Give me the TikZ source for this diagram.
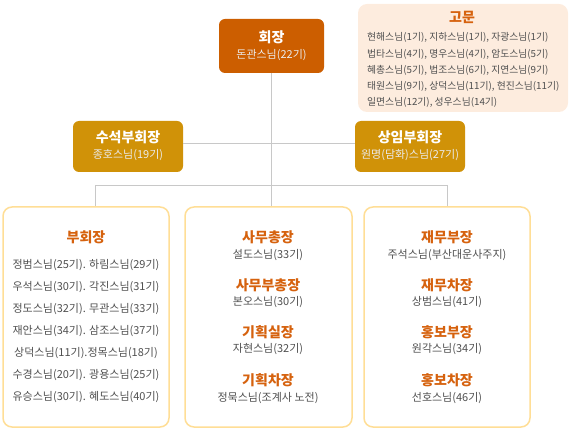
\documentclass[tikz,border=0pt]{standalone}
\usepackage{fontspec}
\setmainfont{Noto Sans CJK KR}
\definecolor{chief}{RGB}{204,94,0}
\definecolor{gold}{RGB}{208,146,8}
\definecolor{peach}{RGB}{253,236,222}
\definecolor{ttl}{RGB}{214,98,14}
\definecolor{bord}{RGB}{255,222,150}
\definecolor{body}{RGB}{80,80,80}
\definecolor{conn}{RGB}{200,200,200}
\tikzset{
  topbox/.style={rounded corners=6pt, inner sep=0pt},
  listbox/.style={draw=bord, line width=1.5pt, fill=white, rounded corners=9pt, inner sep=0pt},
  wtitle/.style={text=white, font=\fontsize{14}{16}\selectfont\bfseries, inner sep=0pt},
  wsub/.style={text=white!92!black, font=\fontsize{11}{13}\selectfont, inner sep=0pt},
  otitle/.style={text=ttl, font=\fontsize{14}{16}\selectfont\bfseries, inner sep=0pt},
  btxt/.style={text=body, font=\fontsize{11}{13}\selectfont, inner sep=0pt},
  gtxt/.style={text=body, font=\fontsize{9.8}{11}\selectfont, inner sep=0pt, anchor=west},
  conline/.style={draw=conn, line width=0.8pt}
}
\begin{document}
\begin{tikzpicture}[x=1pt,y=-1pt]
\useasboundingbox (0,0) rectangle (572,430);
% boxes
\node[topbox, fill=chief, minimum width=105pt, minimum height=54pt] (hj) at (271.5,46) {};
\node[topbox, fill=gold, minimum width=110pt, minimum height=51pt] (sb) at (128,146.5) {};
\node[topbox, fill=gold, minimum width=110pt, minimum height=51pt] (si) at (410,146.5) {};
\node[rounded corners=9pt, fill=peach, minimum width=210pt, minimum height=108pt, inner sep=0pt] (gm) at (463,58) {};
\node[listbox, minimum width=166pt, minimum height=220pt] (b1) at (86,317) {};
\node[listbox, minimum width=167pt, minimum height=220pt] (b2) at (268.5,317) {};
\node[listbox, minimum width=166pt, minimum height=220pt] (b3) at (447,317) {};
% connectors
\coordinate (j1) at (271.5,143);
\coordinate (j2) at (271.5,185);
\coordinate (l) at (95,185);
\coordinate (m) at (271.5,185);
\coordinate (r) at (447,185);
\draw[conline] (hj.south) -- (j2);
\draw[conline] (sb.east |- j1) -- (si.west |- j1);
\draw[conline] (l) -- (r);
\draw[conline] (l) -- (l |- b1.north);
\draw[conline] (m) -- (m |- b2.north);
\draw[conline] (r) -- (r |- b3.north);
% top texts
\node[wtitle] (t1) at (271.5,37) {회장};
\node[wsub] (s1) at (271.5,55) {돈관스님(22기)};
\node[wtitle] (t2) at (128,137) {수석부회장};
\node[wsub] (s2) at (128,155) {종호스님(19기)};
\node[wtitle] (t3) at (410,137) {상임부회장};
\node[wsub] (s3) at (410,155) {원명(담화)스님(27기)};
% advisors
\node[otitle] (gt) at (462,17) {고문};
\node[gtxt] (g1) at (367,37) {현해스님(1기), 지하스님(1기), 자광스님(1기)};
\node[gtxt] (g2) at (367,54) {법타스님(4기), 명우스님(4기), 암도스님(5기)};
\node[gtxt] (g3) at (367,70) {혜총스님(5기), 법조스님(6기), 지연스님(9기)};
\node[gtxt] (g4) at (367,86) {태원스님(9기), 상덕스님(11기), 현진스님(11기)};
\node[gtxt] (g5) at (367,102) {일면스님(12기), 성우스님(14기)};
% box 1
\node[otitle] (a0) at (86,237) {부회장};
\node[btxt] (a1) at (86,265) {정범스님(25기). 하림스님(29기)};
\node[btxt] (a2) at (86,287) {우석스님(30기). 각진스님(31기)};
\node[btxt] (a3) at (86,309) {정도스님(32기). 무관스님(33기)};
\node[btxt] (a4) at (86,331) {재안스님(34기). 삼조스님(37기)};
\node[btxt] (a5) at (86,353) {상덕스님(11기).정목스님(18기)};
\node[btxt] (a6) at (86,375) {수경스님(20기). 광용스님(25기)};
\node[btxt] (a7) at (86,397) {유승스님(30기). 혜도스님(40기)};
% box 2
\node[otitle] (c1) at (268,237) {사무총장};
\node[btxt] (d1) at (268,255) {설도스님(33기)};
\node[otitle] (c2) at (268,285) {사무부총장};
\node[btxt] (d2) at (268,302) {본오스님(30기)};
\node[otitle] (c3) at (268,332) {기획실장};
\node[btxt] (d3) at (268,349) {자현스님(32기)};
\node[otitle] (c4) at (268,380) {기획차장};
\node[btxt] (d4) at (268,398) {정묵스님(조계사 노전)};
% box 3
\node[otitle] (e1) at (447,237) {재무부장};
\node[btxt] (f1) at (447,255) {주석스님(부산대운사주지)};
\node[otitle] (e2) at (447,285) {재무차장};
\node[btxt] (f2) at (447,302) {상범스님(41기)};
\node[otitle] (e3) at (447,332) {홍보부장};
\node[btxt] (f3) at (447,349) {원각스님(34기)};
\node[otitle] (e4) at (447,380) {홍보차장};
\node[btxt] (f4) at (447,398) {선호스님(46기)};
\end{tikzpicture}
\end{document}
